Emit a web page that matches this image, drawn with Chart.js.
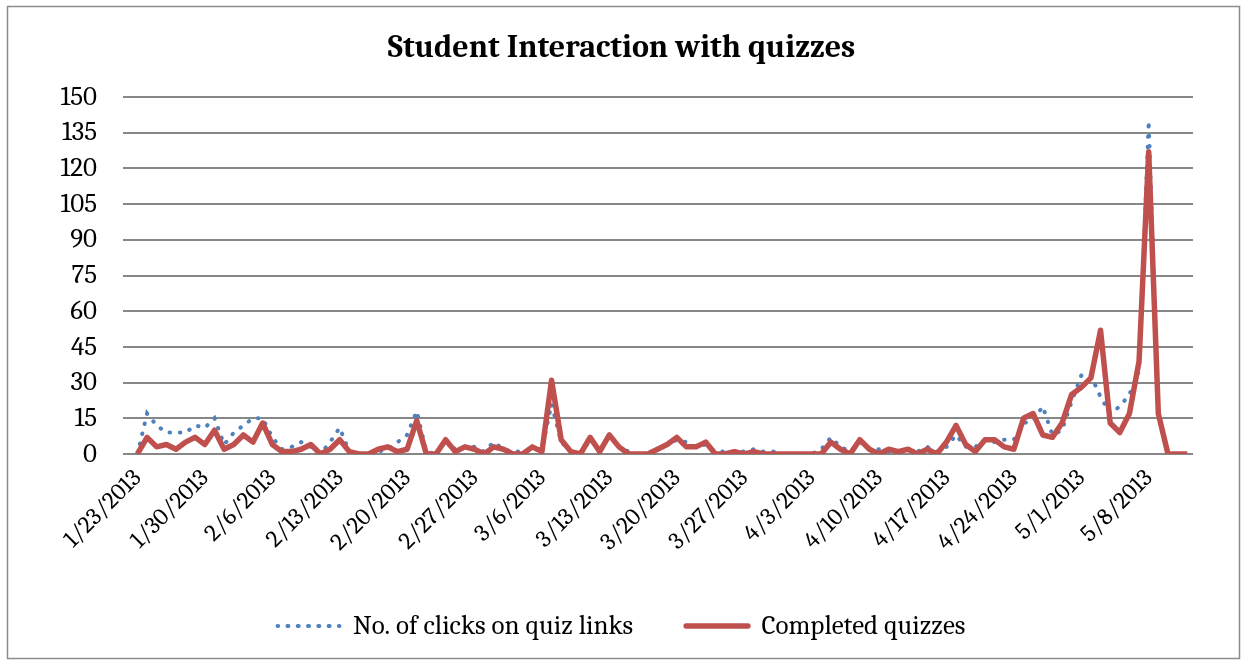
<!DOCTYPE html>
<html lang="en">
<head>
<meta charset="UTF-8">
<title>Student Interaction with quizzes</title>
<script src="https://cdn.jsdelivr.net/npm/chart.js"></script>
<style>
    body { margin: 0; background: #ffffff; }
    .grafico { width: 1243px; height: 662px; }
</style>
</head>
<body>
<div class="grafico"><canvas id="graficoQuizzes"></canvas></div>
<script>
    // one value per day, starting 1/23/2013
    const tickDays = [0, 7, 14, 21, 28, 35, 42, 49, 56, 63, 70, 77, 84, 91, 98, 105];
    const tickLabels = ['1/23/2013', '1/30/2013', '2/6/2013', '2/13/2013', '2/20/2013', '2/27/2013',
        '3/6/2013', '3/13/2013', '3/20/2013', '3/27/2013', '4/3/2013', '4/10/2013', '4/17/2013',
        '4/24/2013', '5/1/2013', '5/8/2013'];
    const yTicks = [0, 15, 30, 45, 60, 75, 90, 105, 120, 135, 150];

    const clicks = [
        0, 17, 12, 9, 9, 9, 12, 11, 15, 4,
        9, 12, 15, 15, 7, 2, 3, 5, 3, 0,
        5, 11, 1, 0, 0, 1, 2, 5, 8, 18,
        1, 0, 5, 2, 3, 3, 1, 5, 2, 1,
        1, 2, 2, 21, 5, 1, 0, 6, 2, 8,
        3, 1, 0, 0, 2, 4, 6, 5, 3, 4,
        1, 1, 1, 1, 2, 1, 1, 0, 0, 0,
        0, 2, 7, 3, 1, 5, 2, 2, 1, 1,
        2, 1, 3, 1, 3, 8, 3, 3, 6, 5,
        6, 6, 13, 14, 20, 8, 10, 22, 33, 33,
        24, 17, 20, 25, 35, 140, 17, 0, 0, 0
    ];
    const completed = [
        0, 7, 3, 4, 2, 5, 7, 4, 10, 2,
        4, 8, 5, 13, 4, 1, 1, 2, 4, 0,
        2, 6, 1, 0, 0, 2, 3, 1, 2, 14,
        0, 0, 6, 1, 3, 2, 0, 3, 2, 0,
        0, 3, 1, 31, 6, 1, 0, 7, 1, 8,
        3, 0, 0, 0, 2, 4, 7, 3, 3, 5,
        0, 0, 1, 0, 1, 0, 0, 0, 0, 0,
        0, 0, 5, 2, 0, 6, 2, 0, 2, 1,
        2, 0, 2, 0, 5, 12, 4, 1, 6, 6,
        3, 2, 15, 17, 8, 7, 13, 25, 28, 32,
        52, 13, 9, 17, 39, 127, 17, 0, 0, 0
    ];

    const fonte = 'Cambria, "Liberation Serif", "DejaVu Serif", serif';

    // white page + thin grey frame round the whole chart
    const moldura = {
        id: 'moldura',
        beforeDraw(chart) {
            const c = chart.ctx;
            c.save();
            c.fillStyle = '#ffffff';
            c.fillRect(0, 0, chart.width, chart.height);
            c.strokeStyle = '#8c8c8c';
            c.lineWidth = 1.5;
            c.strokeRect(7.5, 6.5, 1232, 652);
            c.restore();
        }
    };

    const ctx = document.getElementById('graficoQuizzes').getContext('2d');

    new Chart(ctx, {
        type: 'line',
        data: {
            datasets: [{
                label: 'No. of clicks on quiz links',
                data: clicks.map((v, i) => ({ x: i, y: v })),
                borderColor: '#4F81BD',
                backgroundColor: '#4F81BD',
                borderWidth: 4,
                borderDash: [0.5, 9.8],
                borderCapStyle: 'round',
                pointRadius: 0,
                order: 2
            }, {
                label: 'Completed quizzes',
                data: completed.map((v, i) => ({ x: i, y: v })),
                borderColor: '#C0504D',
                backgroundColor: '#C0504D',
                borderWidth: 5.5,
                borderJoinStyle: 'round',
                pointRadius: 0,
                order: 1
            }]
        },
        options: {
            responsive: true,
            maintainAspectRatio: false,
            animation: false,
            layout: { padding: { left: 50, right: 50, top: 0, bottom: 12.5 } },
            plugins: {
                title: {
                    display: true,
                    text: 'Student Interaction with quizzes',
                    color: '#000000',
                    font: { family: fonte, size: 32, weight: 'bold' },
                    padding: { top: 28.5, bottom: 30.1 }
                },
                legend: {
                    position: 'bottom',
                    labels: {
                        boxWidth: 61.8,   // 6 dash periods, so the dotted sample lines up
                        boxHeight: 0,
                        color: '#000000',
                        padding: 53,
                        font: { family: fonte, size: 27 },
                        sort: (a, b) => a.datasetIndex - b.datasetIndex
                    }
                },
                tooltip: { enabled: false }
            },
            scales: {
                x: {
                    type: 'linear',
                    min: -1.5,
                    max: 109.6,
                    grid: { display: false },
                    border: { display: false },
                    afterBuildTicks: axis => { axis.ticks = tickDays.map(v => ({ value: v })); },
                    afterFit: scale => { scale.height = 105.5; },
                    ticks: {
                        autoSkip: false,
                        minRotation: 45,
                        maxRotation: 45,
                        padding: 2,
                        color: '#000000',
                        font: { family: fonte, size: 24 },
                        callback: (value, index) => tickLabels[index]
                    }
                },
                y: {
                    min: 0,
                    max: 150,
                    afterBuildTicks: axis => { axis.ticks = yTicks.map(v => ({ value: v })); },
                    afterFit: scale => { scale.width = 73; },
                    grid: { color: '#878787', lineWidth: 2, drawTicks: false },
                    border: { display: false },
                    ticks: {
                        padding: 26,
                        color: '#000000',
                        font: { family: fonte, size: 27 }
                    }
                }
            }
        },
        plugins: [moldura]
    });
</script>
</body>
</html>
